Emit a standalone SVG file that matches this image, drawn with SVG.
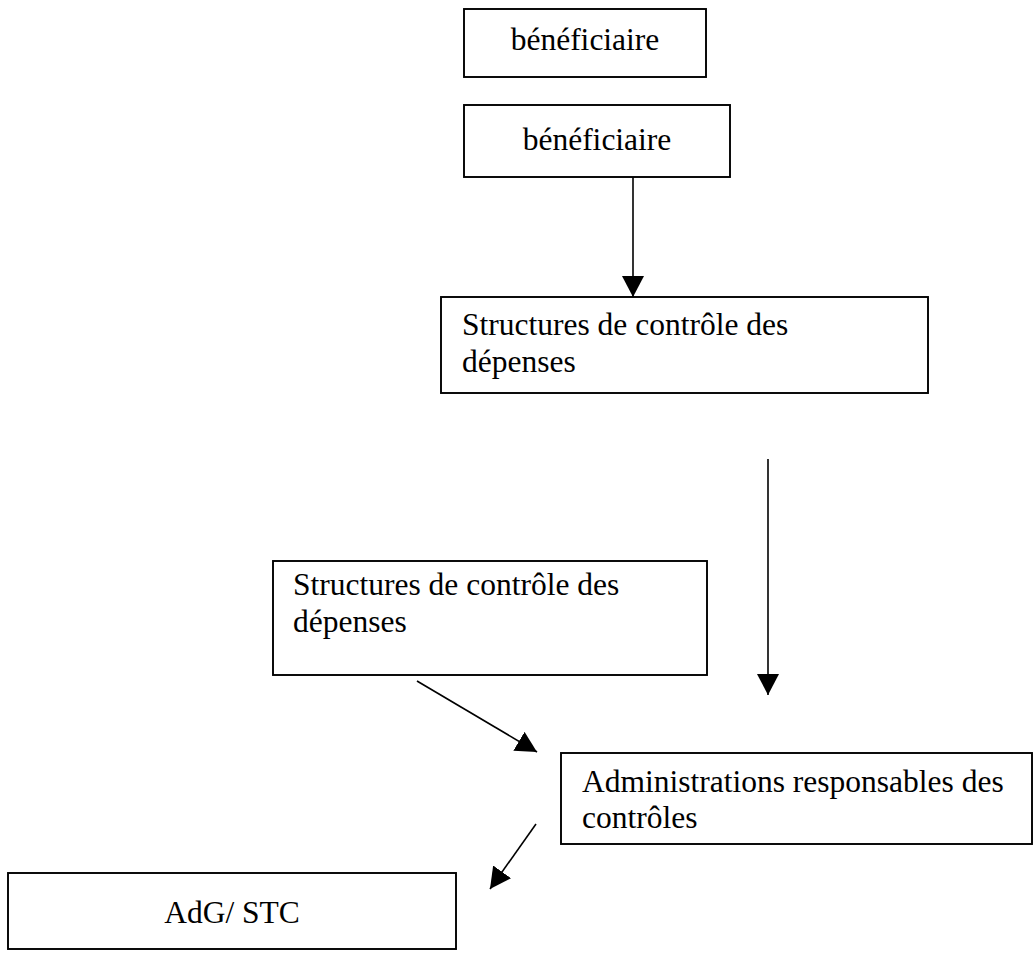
<svg xmlns="http://www.w3.org/2000/svg" width="1034" height="955" viewBox="0 0 1034 955">
<defs>
<style>
.box{fill:#fff;stroke:#000;stroke-width:1.9}
.t{font-family:"Liberation Serif","Times New Roman",serif;font-size:31.5px;fill:#000}
.c{text-anchor:middle}
.ln{stroke:#000;stroke-width:1.6;fill:none}
</style>
<marker id="ah" markerWidth="21" markerHeight="22" viewBox="0 0 21 22" refX="21" refY="11" orient="auto" markerUnits="userSpaceOnUse">
<path d="M0,0 L21,11 L0,22 Z" fill="#000"/>
</marker>
</defs>
<rect width="1034" height="955" fill="#fff"/>
<g id="connectors">
<line class="ln" x1="633" y1="177" x2="633" y2="297" marker-end="url(#ah)"/>
<line class="ln" x1="768" y1="459" x2="768" y2="695" marker-end="url(#ah)"/>
<line class="ln" x1="417" y1="681" x2="537" y2="752" marker-end="url(#ah)"/>
<line class="ln" x1="536" y1="824" x2="490" y2="889" marker-end="url(#ah)"/>
</g>
<g id="beneficiaire1">
<rect class="box" x="464" y="9" width="242" height="68"/>
<text class="t c" x="585" y="50">bénéficiaire</text>
</g>
<g id="beneficiaire2">
<rect class="box" x="464" y="105" width="266" height="72"/>
<text class="t c" x="597" y="150">bénéficiaire</text>
</g>
<g id="structures1">
<rect class="box" x="441" y="297" width="487" height="96"/>
<text class="t" x="462" y="335">Structures de contrôle des</text>
<text class="t" x="462" y="372">dépenses</text>
</g>
<g id="structures2">
<rect class="box" x="273" y="561" width="434" height="114"/>
<text class="t" x="293" y="595">Structures de contrôle des</text>
<text class="t" x="293" y="632">dépenses</text>
</g>
<g id="administrations">
<rect class="box" x="561" y="753" width="471" height="91"/>
<text class="t" x="582" y="792">Administrations responsables des</text>
<text class="t" x="582" y="828">contrôles</text>
</g>
<g id="adg">
<rect class="box" x="8" y="873" width="448" height="76"/>
<text class="t c" x="232" y="923">AdG/ STC</text>
</g>
</svg>
